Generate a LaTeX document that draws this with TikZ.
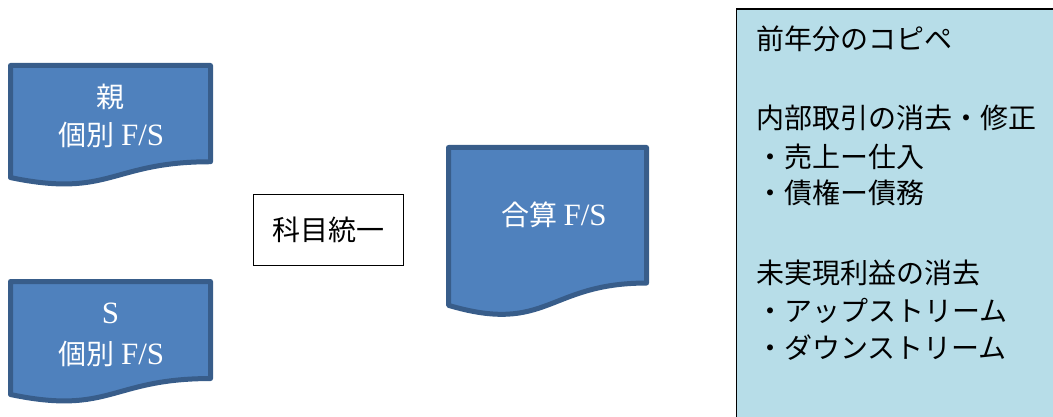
\documentclass[tikz,border=0pt]{standalone}
\usepackage{fontspec}
\setmainfont{Liberation Serif}
\newfontfamily\cjk{Noto Sans CJK JP}
\definecolor{docfill}{HTML}{4F81BD}
\definecolor{docline}{HTML}{385D8A}
\definecolor{notefill}{HTML}{B7DDE8}
\newcommand\lat[1]{{\fontsize{31}{38}\selectfont\rmfamily #1}}
\newcommand\fsdoc[4]{%
  \begin{scope}[shift={(#1,#2)}, xscale=#3, yscale=#4]
    \draw[docshape] (0,0) -- (1,0) -- (1,0.802)
      .. controls (0.5,0.802) and (0.5,1.107) .. (0,0.934) -- cycle;
  \end{scope}}
\tikzset{
  docshape/.style={fill=docfill, draw=docline, line width=5pt, line join=round},
  jtext/.style={font=\fontsize{28}{35}\selectfont\cjk, inner sep=0pt,
    text height=24.6pt, text depth=3.4pt},
  doctext/.style={jtext, text=white, anchor=center},
  notetext/.style={jtext, text=black, anchor=west},
  plainbox/.style={draw=black, line width=1.2pt, fill=white, jtext,
    minimum width=150pt, minimum height=71pt, inner sep=0pt},
  notebox/.style={draw=black, line width=1.5pt, fill=notefill,
    anchor=north west, minimum width=340pt, minimum height=430pt, inner sep=0pt}
}
\begin{document}
\begin{tikzpicture}[x=1pt,y=-1pt]
\useasboundingbox (0,0) rectangle (1053,417);
\clip (0,0) rectangle (1053,417);

% document shapes
\fsdoc{10.5}{65.5}{200}{120}
\fsdoc{10.5}{281.5}{200}{121}
\fsdoc{448.5}{147.5}{198}{169}

\node[doctext] (d1a) at (110.5,97) {親};
\node[doctext] (d1b) at (111.5,135) {個別 \lat{F/S}};
\node[doctext] (d2a) at (110.5,313) {\lat{S}};
\node[doctext] (d2b) at (111.5,354) {個別 \lat{F/S}};
\node[doctext] (d3) at (554,215) {合算 \lat{F/S}};

% unify box
\node[plainbox] (unify) at (328.5,230) {科目統一};

% note box
\node[notebox] (note) at (735.5,8.5) {};
\node[notetext] (n1) at (756,39) {前年分のコピペ};
\node[notetext] (n2) at (756,118) {内部取引の消去・修正};
\node[notetext] (n3) at (756,157) {・売上ー仕入};
\node[notetext] (n4) at (756,193) {・債権ー債務};
\node[notetext] (n5) at (756,273) {未実現利益の消去};
\node[notetext] (n6) at (756,311) {・アップストリーム};
\node[notetext] (n7) at (756,348) {・ダウンストリーム};
\end{tikzpicture}
\end{document}
